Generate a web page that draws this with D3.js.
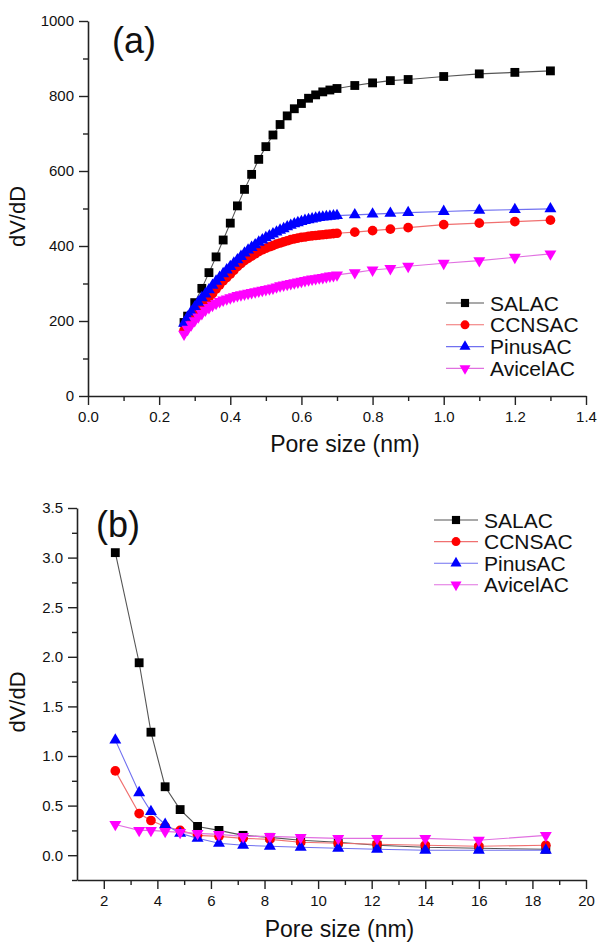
<!DOCTYPE html>
<html>
<head>
<meta charset="utf-8">
<script src="https://cdn.jsdelivr.net/npm/d3@7"></script>
<style>
  body { margin: 0; background: #fff; }
  svg { display: block; font-family: "Liberation Sans", Arial, sans-serif; }
</style>
</head>
<body>
<svg id="chart" width="600" height="947"></svg>
<script>
// ---- data, panel (a): micropores ----
const seriesNames = ["SALAC", "CCNSAC", "PinusAC", "AvicelAC"];

const aSalacX = [0.27, 0.28, 0.30, 0.32, 0.34, 0.36, 0.38, 0.40, 0.42, 0.44, 0.46, 0.48, 0.50, 0.52,
  0.54, 0.56, 0.58, 0.60, 0.62, 0.64, 0.66, 0.68, 0.70, 0.75, 0.80, 0.85, 0.90, 1.0, 1.1, 1.2, 1.3];
const aSalacY = [196, 213, 249, 287, 329, 371, 416, 461, 507, 551, 591, 631, 665, 696,
  724, 747, 766, 780, 794, 803, 811, 816, 820, 828, 835, 841, 844, 852, 859, 863, 867];

// the other three share a finer grid
const aFineX = [0.27, 0.28, 0.29, 0.30, 0.31, 0.32, 0.33, 0.34, 0.35, 0.36, 0.37, 0.38, 0.39, 0.40,
  0.41, 0.42, 0.43, 0.44, 0.45, 0.46, 0.47, 0.48, 0.49, 0.50, 0.51, 0.52, 0.53, 0.54, 0.55, 0.56,
  0.57, 0.58, 0.59, 0.60, 0.61, 0.62, 0.63, 0.64, 0.65, 0.66, 0.67, 0.68, 0.69, 0.70,
  0.75, 0.80, 0.85, 0.90, 1.0, 1.1, 1.2, 1.3];
const aCcnsacY = [175, 184, 196, 211, 228, 241, 251, 262, 273, 285, 296, 307, 316, 325,
  335, 345, 353, 361, 367, 373, 379, 385, 390, 394, 398, 401, 405, 408, 411, 414,
  417, 419, 421, 423, 424, 426, 427, 428, 429, 430, 431, 432, 433, 434,
  437, 441, 445, 449, 457, 461, 465, 469];
const aPinusY = [194, 210, 224, 237, 250, 262, 272, 283, 295, 306, 316, 326, 336, 345,
  354, 363, 372, 381, 389, 396, 403, 410, 416, 422, 427, 432, 437, 442, 446, 451,
  455, 459, 462, 465, 468, 470, 472, 474, 476, 477, 478, 479, 480, 481,
  483, 485, 487, 489, 492, 495, 497, 499];
const aAvicelY = [165, 178, 190, 201, 211, 220, 229, 236, 242, 247, 252, 256, 259, 262,
  265, 268, 270, 272, 274, 276, 278, 280, 282, 284, 286, 288, 291, 294, 296, 298,
  300, 302, 304, 306, 308, 310, 312, 313, 315, 316, 318, 320, 321, 323,
  329, 336, 340, 346, 354, 361, 370, 379];

// ---- data, panel (b): mesopores ----
const bX = [2.43, 3.32, 3.76, 4.29, 4.85, 5.5, 6.3, 7.2, 8.2, 9.35, 10.75, 12.2, 14.0, 16.0, 18.5];
const bSalacY  = [3.05, 1.94, 1.24, 0.69, 0.46, 0.29, 0.25, 0.20, 0.18, 0.15, 0.13, 0.10, 0.08, 0.07, 0.06];
const bCcnsacY = [0.85, 0.42, 0.35, 0.29, 0.25, 0.20, 0.19, 0.17, 0.16, 0.13, 0.12, 0.11, 0.10, 0.09, 0.10];
const bPinusY  = [1.16, 0.63, 0.44, 0.31, 0.22, 0.17, 0.12, 0.10, 0.09, 0.08, 0.07, 0.06, 0.05, 0.05, 0.05];
const bAvicelY = [0.31, 0.25, 0.25, 0.24, 0.23, 0.22, 0.21, 0.19, 0.19, 0.18, 0.17, 0.17, 0.17, 0.15, 0.20];

// marker / line style per series
const styles = [
  { fill: "#000000", line: "#555555", shape: d3.symbolSquare, size: 78, rot: 0 },
  { fill: "#ff0000", line: "#f07070", shape: d3.symbolCircle, size: 74, rot: 0 },
  { fill: "#0000ff", line: "#7070f0", shape: d3.symbolTriangle, size: 62, rot: 0 },
  { fill: "#ff00ff", line: "#e070e0", shape: d3.symbolTriangle, size: 62, rot: 180 }
];

const svg = d3.select("#chart");

function zip(xs, ys) {
  return xs.map((x, i) => ({ x: x, y: ys[i] }));
}

// draws one panel: axes with outward ticks, series, legend, labels
function drawPanel(cfg) {
  const x = d3.scaleLinear().domain(cfg.xDomain).range([cfg.left, cfg.right]);
  const y = d3.scaleLinear().domain(cfg.yDomain).range([cfg.bottom, cfg.top]);
  const g = svg.append("g");

  // minor ticks first, major on top
  g.append("g")
    .attr("transform", `translate(0,${cfg.bottom})`)
    .call(d3.axisBottom(x).tickValues(cfg.xMinor).tickSize(5).tickFormat(""))
    .call(a => a.select(".domain").remove());
  g.append("g")
    .attr("transform", `translate(${cfg.left},0)`)
    .call(d3.axisLeft(y).tickValues(cfg.yMinor).tickSize(5).tickFormat(""))
    .call(a => a.select(".domain").remove());

  const xAxis = g.append("g")
    .attr("transform", `translate(0,${cfg.bottom})`)
    .call(d3.axisBottom(x).tickValues(cfg.xMajor).tickSize(9).tickSizeOuter(0)
      .tickPadding(6).tickFormat(cfg.xFormat));
  const yAxis = g.append("g")
    .attr("transform", `translate(${cfg.left},0)`)
    .call(d3.axisLeft(y).tickValues(cfg.yMajor).tickSize(9).tickSizeOuter(0)
      .tickPadding(5).tickFormat(cfg.yFormat));

  [xAxis, yAxis].forEach(a => {
    a.selectAll("text").attr("font-size", 15).attr("fill", "#111")
      .attr("font-family", "Liberation Sans, Arial, sans-serif");
    a.select(".domain").attr("stroke-width", 1.6).attr("stroke", "#222");
  });
  g.selectAll("line").attr("stroke-width", 1.4).attr("stroke", "#222");

  // series
  const line = d3.line().x(d => x(d.x)).y(d => y(d.y));
  cfg.series.forEach((s, i) => {
    const st = styles[i];
    const pts = zip(s.xs, s.ys);
    g.append("path").datum(pts)
      .attr("fill", "none").attr("stroke", st.line).attr("stroke-width", 1.1)
      .attr("d", line);
    g.selectAll(null).data(pts).enter().append("path")
      .attr("d", d3.symbol().type(st.shape).size(st.size))
      .attr("transform", d => `translate(${x(d.x)},${y(d.y)}) rotate(${st.rot})`)
      .attr("fill", st.fill);
  });

  // legend
  const lg = g.append("g").attr("transform", `translate(${cfg.legend[0]},${cfg.legend[1]})`);
  seriesNames.forEach((name, i) => {
    const st = styles[i];
    const row = lg.append("g").attr("transform", `translate(0,${i * cfg.legendStep})`);
    row.append("line").attr("x1", 0).attr("x2", cfg.legendLine).attr("y1", 0).attr("y2", 0)
      .attr("stroke", st.line).attr("stroke-width", 1.1);
    row.append("path")
      .attr("d", d3.symbol().type(st.shape).size(st.size * 0.85))
      .attr("transform", `translate(${cfg.legendLine / 2},0) rotate(${st.rot})`)
      .attr("fill", st.fill);
    row.append("text").attr("x", cfg.legendLine + 6).attr("y", 0).attr("dy", "0.36em")
      .attr("font-size", 21).attr("fill", "#111").text(name);
  });

  // panel tag and axis titles
  g.append("text").attr("x", cfg.tag[0]).attr("y", cfg.tag[1])
    .attr("font-size", 36).attr("fill", "#111").text(cfg.tagText);
  g.append("text")
    .attr("x", (cfg.left + cfg.right) / 2 + 8).attr("y", cfg.xTitleY)
    .attr("text-anchor", "middle").attr("font-size", 23).attr("fill", "#111")
    .text("Pore size (nm)");
  g.append("text")
    .attr("transform", `translate(${cfg.yTitleX},${(cfg.top + cfg.bottom) / 2 + 8}) rotate(-90)`)
    .attr("text-anchor", "middle").attr("font-size", 22).attr("fill", "#111")
    .text("dV/dD");
}

drawPanel({
  left: 88, right: 586, top: 21, bottom: 396,
  xDomain: [0, 1.4], yDomain: [0, 1000],
  xMajor: d3.range(0, 1.41, 0.2), xMinor: d3.range(0.1, 1.4, 0.2),
  yMajor: d3.range(0, 1001, 200), yMinor: d3.range(100, 1000, 200),
  xFormat: d3.format(".1f"), yFormat: d3.format("d"),
  series: [
    { xs: aSalacX, ys: aSalacY },
    { xs: aFineX, ys: aCcnsacY },
    { xs: aFineX, ys: aPinusY },
    { xs: aFineX, ys: aAvicelY }
  ],
  legend: [446, 303], legendStep: 21.8, legendLine: 38,
  tag: [112, 53], tagText: "(a)",
  xTitleY: 452, yTitleX: 25
});

drawPanel({
  left: 77, right: 586, top: 508, bottom: 880,
  xDomain: [1, 20], yDomain: [-0.25, 3.5],
  xMajor: d3.range(2, 21, 2), xMinor: d3.range(3, 20, 2),
  yMajor: d3.range(0, 3.51, 0.5), yMinor: d3.range(-0.25, 3.5, 0.5),
  xFormat: d3.format("d"), yFormat: d3.format(".1f"),
  series: [
    { xs: bX, ys: bSalacY },
    { xs: bX, ys: bCcnsacY },
    { xs: bX, ys: bPinusY },
    { xs: bX, ys: bAvicelY }
  ],
  legend: [434, 520], legendStep: 21.6, legendLine: 44,
  tag: [96, 537], tagText: "(b)",
  xTitleY: 937, yTitleX: 25
});
</script>
</body>
</html>
